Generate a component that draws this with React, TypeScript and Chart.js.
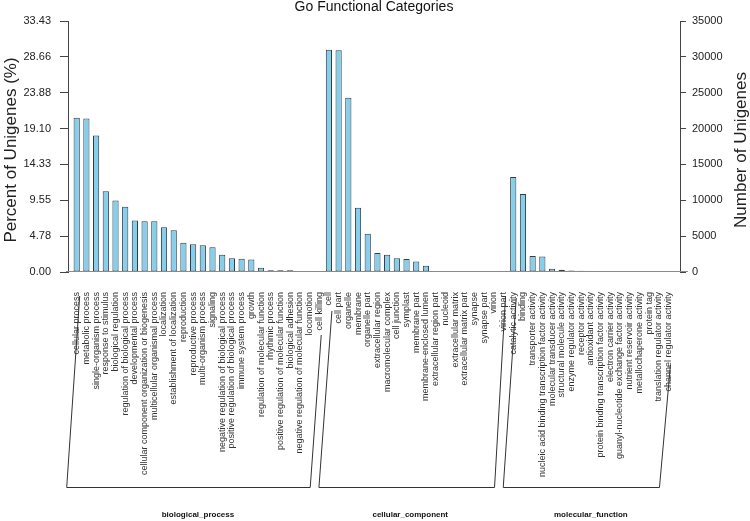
import React, { useEffect, useRef } from 'react';
import { Chart, registerables } from 'chart.js';

Chart.register(...registerables);

// ---------- data ----------
const bpCategories = [
  'cellular process', 'metabolic process', 'single-organism process', 'response to stimulus',
  'biological regulation', 'regulation of biological process', 'developmental process',
  'cellular component organization or biogenesis', 'multicellular organismal process',
  'localization', 'establishment of localization', 'reproduction', 'reproductive process',
  'multi-organism process', 'signaling', 'negative regulation of biological process',
  'positive regulation of biological process', 'immune system process', 'growth',
  'regulation of molecular function', 'rhythmic process', 'positive regulation of molecular function',
  'biological adhesion', 'negative regulation of molecular function', 'locomotion', 'cell killing',
];
const bpCounts = [
  21500, 21400, 19030, 11260, 9970, 9090, 7180, 7080, 7080, 6250, 5830, 4070, 3870,
  3740, 3460, 2400, 1920, 1840, 1740, 590, 250, 250, 230, 70, 15, 8,
];

const ccCategories = [
  'cell', 'cell part', 'organelle', 'membrane', 'organelle part', 'extracellular region',
  'macromolecular complex', 'cell junction', 'symplast', 'membrane part',
  'membrane-enclosed lumen', 'extracellular region part', 'nucleoid', 'extracellular matrix',
  'extracellular matrix part', 'synapse', 'synapse part', 'virion', 'virion part',
];
const ccCounts = [
  30980, 30930, 24300, 8970, 5350, 2640, 2420, 1900, 1800, 1480, 880, 40, 25, 20, 10, 8, 6, 4, 4,
];

const mfCategories = [
  'catalytic activity', 'binding', 'transporter activity',
  'nucleic acid binding transcription factor activity', 'molecular transducer activity',
  'structural molecule activity', 'enzyme regulator activity', 'receptor activity',
  'antioxidant activity', 'protein binding transcription factor activity',
  'electron carrier activity', 'guanyl-nucleotide exchange factor activity',
  'nutrient reservoir activity', 'metallochaperone activity', 'protein tag',
  'translation regulator activity', 'channel regulator activity',
];
const mfCounts = [
  13240, 10870, 2230, 2150, 470, 330, 195, 190, 60, 30, 25, 20, 15, 10, 8, 5, 4,
];

const groupNames = ['biological_process', 'cellular_component', 'molecular_function'];
const countTicks = [0, 5000, 10000, 15000, 20000, 25000, 30000, 35000];
const percentTickLabels = ['0.00', '4.78', '9.55', '14.33', '19.10', '23.88', '28.66', '33.43'];

const chartTitle = 'Go Functional Categories';
const leftAxisTitle = 'Percent of Unigenes (%)';
const rightAxisTitle = 'Number of Unigenes';

const allCategories = [...bpCategories, ...ccCategories, ...mfCategories];
const allCounts = [...bpCounts, ...ccCounts, ...mfCounts];
const groupSizes = [bpCategories.length, ccCategories.length, mfCategories.length];

const FONT = "'Liberation Sans', Arial, sans-serif";

const decorPlugin = {
  id: 'decor',
  afterDatasetsDraw(chart: any) {
    const { ctx, chartArea, scales } = chart;
    const y0 = Math.round(scales.y.getPixelForValue(0)) - 0.5;
    ctx.save();
    ctx.strokeStyle = '#8a8a8a';
    ctx.lineWidth = 1;
    ctx.beginPath();
    ctx.moveTo(chartArea.left - 2, y0);
    ctx.lineTo(chartArea.right + 8, y0);
    ctx.stroke();
    ctx.restore();
  },
  afterDraw(chart: any) {
    const { ctx, chartArea, scales } = chart;
    const xs = scales.x;
    ctx.save();

    // title
    ctx.fillStyle = '#111';
    ctx.font = `14px ${FONT}`;
    ctx.textAlign = 'center';
    ctx.textBaseline = 'middle';
    ctx.fillText(chartTitle, (chartArea.left + chartArea.right) / 2, 7);

    // axis titles
    ctx.font = `17px ${FONT}`;
    ctx.fillStyle = '#222';
    ctx.save();
    ctx.translate(11, 150);
    ctx.rotate(-Math.PI / 2);
    ctx.fillText(leftAxisTitle, 0, 0);
    ctx.restore();
    ctx.save();
    ctx.translate(741, 150);
    ctx.rotate(-Math.PI / 2);
    ctx.fillText(rightAxisTitle, 0, 0);
    ctx.restore();

    // category labels
    const labelTop = 292;
    ctx.font = `9px ${FONT}`;
    ctx.fillStyle = '#333';
    ctx.textAlign = 'right';
    ctx.textBaseline = 'middle';
    allCategories.forEach((label, i) => {
      const x = xs.getPixelForValue(i);
      ctx.save();
      ctx.translate(x, labelTop);
      ctx.rotate(-Math.PI / 2);
      ctx.fillText(label, 0, 0);
      ctx.restore();
    });

    // group brackets
    const attach = [[296, 335], [311, 296], [298, 365]];
    const bottomY = 487.5;
    ctx.strokeStyle = '#333';
    ctx.lineWidth = 1;
    let start = 0;
    groupSizes.forEach((n, g) => {
      const xF = xs.getPixelForValue(start);
      const xL = xs.getPixelForValue(start + n - 1);
      ctx.beginPath();
      ctx.moveTo(xF + 3, attach[g][0]);
      ctx.lineTo(xF - 10, bottomY);
      ctx.lineTo(xL - 9, bottomY);
      ctx.lineTo(xL + 2, attach[g][1]);
      ctx.stroke();
      // group name
      ctx.font = `bold 8px ${FONT}`;
      ctx.fillStyle = '#111';
      ctx.textAlign = 'center';
      ctx.textBaseline = 'middle';
      ctx.fillText(groupNames[g], (xF + xL) / 2 - (g === 1 ? 6 : 0), 515);
      start += n;
    });

    ctx.restore();
  },
};

export default function App() {
  const canvasRef = useRef<HTMLCanvasElement | null>(null);

  useEffect(() => {
    const canvas = canvasRef.current;
    if (!canvas) return;
    const tickFont = { family: FONT, size: 11 };
    const chart = new Chart(canvas, {
      type: 'bar',
      data: {
        datasets: [
          {
            data: allCounts.map((v, i) => ({ x: i, y: v })),
            backgroundColor: '#87CEEB',
            borderColor: '#2e3d46',
            borderWidth: 1,
            borderSkipped: false,
            barPercentage: 0.64,
            categoryPercentage: 1,
          } as any,
        ],
      },
      options: {
        responsive: false,
        animation: false,
        devicePixelRatio: 1,
        layout: { padding: { top: 21, bottom: 249, left: 0, right: 0 } },
        plugins: { legend: { display: false }, tooltip: { enabled: false }, title: { display: false } },
        scales: {
          x: {
            type: 'linear',
            min: -0.897,
            max: 62.19,
            offset: false,
            bounds: 'ticks',
            grace: 0,
            display: false,
            grid: { offset: false },
          },
          y: {
            position: 'left',
            min: 0,
            max: 35000,
            afterBuildTicks: (s: any) => {
              s.ticks = countTicks.map((v) => ({ value: v }));
            },
            afterFit: (s: any) => {
              s.width = 68;
            },
            ticks: {
              callback: (v: any) => percentTickLabels[countTicks.indexOf(Number(v))],
              font: tickFont,
              color: '#222',
              padding: 9,
            },
            grid: { drawOnChartArea: false, tickLength: 8, color: '#444' },
            border: { display: true, color: '#444' },
          },
          y1: {
            position: 'right',
            min: 0,
            max: 35000,
            afterBuildTicks: (s: any) => {
              s.ticks = countTicks.map((v) => ({ value: v }));
            },
            afterFit: (s: any) => {
              s.width = 70;
            },
            ticks: {
              callback: (v: any) => String(v),
              font: tickFont,
              color: '#222',
              padding: 6,
            },
            grid: { drawOnChartArea: false, tickLength: 6, color: '#444' },
            border: { display: true, color: '#444' },
          },
        },
      } as any,
      plugins: [decorPlugin],
    });
    return () => chart.destroy();
  }, []);

  return (
    <div style={{ position: 'fixed', left: 0, top: 0, width: 750, height: 521, background: '#fff' }}>
      <canvas ref={canvasRef} width={750} height={521} style={{ display: 'block', width: 750, height: 521 }} />
    </div>
  );
}
